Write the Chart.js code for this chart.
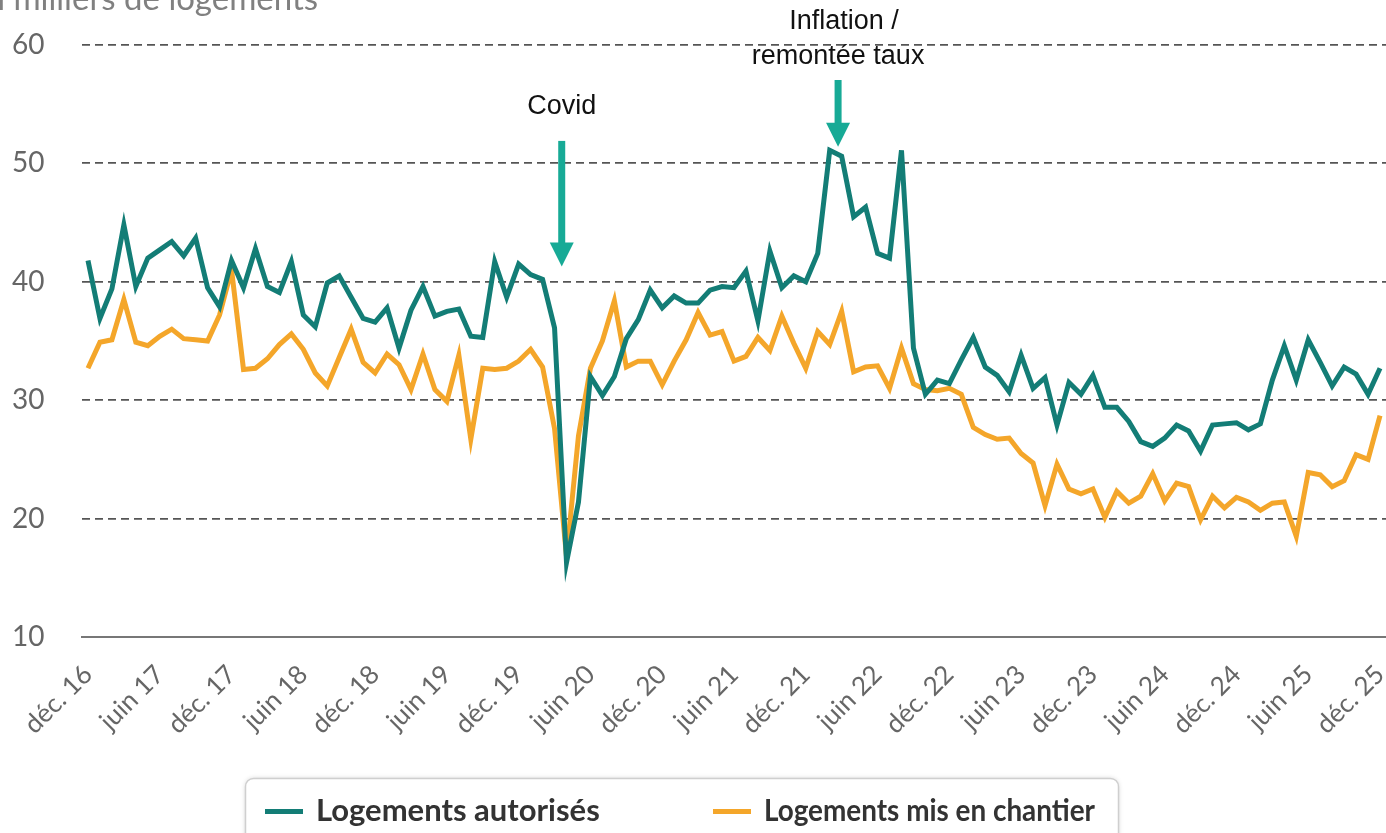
<!DOCTYPE html>
<html lang="fr">
<head>
<meta charset="utf-8">
<title>Logements autorisés et mis en chantier</title>
<script src="https://cdn.jsdelivr.net/npm/chart.js@4.4.1/dist/chart.umd.min.js"></script>
<style>
  html, body { margin: 0; padding: 0; background: #fff; }
  #graphique { display: block; }
</style>
</head>
<body>
<canvas id="graphique" width="1386" height="833"></canvas>
<script>
// Données mensuelles, de déc. 2016 à déc. 2025 (en milliers de logements)
const nomsMois = ['janv.', 'févr.', 'mars', 'avr.', 'mai', 'juin', 'juil.', 'août', 'sept.', 'oct.', 'nov.', 'déc.'];

const autorises = [
  41.8, 36.9, 39.4, 44.8, 39.6, 42.0, 42.7, 43.4, 42.2, 43.7, 39.5, 37.9,
  41.8, 39.5, 42.8, 39.6, 39.1, 41.7, 37.2, 36.2, 39.9, 40.5, 38.7, 36.9,
  36.6, 37.8, 34.4, 37.6, 39.6, 37.1, 37.5, 37.7, 35.4, 35.3, 41.7, 38.7,
  41.5, 40.6, 40.2, 36.1, 16.3, 21.4, 32.0, 30.4, 32.0, 35.2, 36.8, 39.3,
  37.8, 38.8, 38.2, 38.2, 39.3, 39.6, 39.5, 40.9, 36.7, 42.6, 39.5, 40.5,
  40.0, 42.4, 51.1, 50.6, 45.5, 46.3, 42.4, 42.0, 51.1, 34.4, 30.5, 31.7,
  31.4, 33.4, 35.3, 32.8, 32.1, 30.7, 33.8, 31.0, 31.9, 27.9, 31.5, 30.5,
  32.1, 29.4, 29.4, 28.2, 26.5, 26.1, 26.8, 27.9, 27.4, 25.7, 27.9, 28.0,
  28.1, 27.5, 28.0, 31.7, 34.6, 31.7, 35.1, 33.2, 31.2, 32.8, 32.2, 30.5,
  32.7
];

const misEnChantier = [
  32.7, 34.9, 35.1, 38.5, 34.9, 34.6, 35.4, 36.0, 35.2, 35.1, 35.0, 37.2,
  41.0, 32.6, 32.7, 33.5, 34.7, 35.6, 34.3, 32.3, 31.2, 33.6, 36.0, 33.2,
  32.3, 33.9, 33.0, 30.9, 33.9, 30.9, 29.9, 33.8, 26.7, 32.7, 32.6, 32.7,
  33.3, 34.3, 32.8, 27.6, 16.8, 27.0, 32.7, 35.0, 38.4, 32.8, 33.3, 33.3,
  31.3, 33.3, 35.1, 37.4, 35.5, 35.8, 33.3, 33.7, 35.3, 34.2, 37.1, 34.8,
  32.7, 35.8, 34.7, 37.5, 32.4, 32.8, 32.9, 31.0, 34.4, 31.4, 30.9, 30.8,
  31.0, 30.5, 27.7, 27.1, 26.7, 26.8, 25.5, 24.7, 21.1, 24.6, 22.5, 22.1,
  22.5, 20.1, 22.3, 21.3, 21.9, 23.8, 21.5, 23.0, 22.7, 19.9, 21.9, 20.9,
  21.8, 21.4, 20.7, 21.3, 21.4, 18.5, 23.9, 23.7, 22.7, 23.2, 25.4, 25.0,
  28.7
];

// Étiquettes des mois : déc. 16, janv. 17, ...
const mois = [];
for (let i = 0; i < autorises.length; i++) {
  mois.push(nomsMois[(11 + i) % 12] + ' ' + (16 + Math.floor((11 + i) / 12)));
}

const couleurAutorises = '#137d76';
const couleurChantier = '#f4a62a';
const couleurFleche = '#17aa96';

// Dessine une flèche verticale vers le bas
function dessinerFleche(ctx, x, yHaut, yPointe) {
  const base = yPointe - 24;
  ctx.fillStyle = couleurFleche;
  ctx.fillRect(x - 3.5, yHaut, 7, base - yHaut + 1);
  ctx.beginPath();
  ctx.moveTo(x - 12, base);
  ctx.lineTo(x + 12, base);
  ctx.lineTo(x, yPointe);
  ctx.closePath();
  ctx.fill();
}

// Titre d'axe, annotations et légende encadrée
const decor = {
  id: 'decor',
  afterDraw(chart) {
    const ctx = chart.ctx;
    const sx = chart.scales.x;
    const sy = chart.scales.y;
    ctx.save();

    ctx.font = '33px Lato';
    ctx.fillStyle = '#808080';
    ctx.textAlign = 'right';
    ctx.textBaseline = 'alphabetic';
    ctx.fillText('En milliers de logements', 318, 10);

    // Covid
    const xCovid = sx.getPixelForValue(39.6);
    dessinerFleche(ctx, xCovid, sy.getPixelForValue(51.9), sy.getPixelForValue(41.3));
    ctx.font = '27px "Liberation Sans"';
    ctx.fillStyle = '#111';
    ctx.textAlign = 'center';
    ctx.textBaseline = 'middle';
    ctx.fillText('Covid', xCovid, 107);

    // Inflation / remontée des taux
    const xInfl = sx.getPixelForValue(62.7);
    dessinerFleche(ctx, xInfl, 80, sy.getPixelForValue(51.4));
    ctx.fillStyle = '#111';
    ctx.fillText('Inflation /', xInfl + 6, 22);
    ctx.fillText('remontée taux', xInfl, 57);

    // Légende
    ctx.shadowColor = 'rgba(0,0,0,0.18)';
    ctx.shadowBlur = 5;
    ctx.beginPath();
    ctx.roundRect(245.5, 778.5, 873, 90, 8);
    ctx.fillStyle = '#fff';
    ctx.fill();
    ctx.shadowBlur = 0;
    ctx.shadowColor = 'transparent';
    ctx.strokeStyle = '#cfcfcf';
    ctx.lineWidth = 1.5;
    ctx.stroke();

    const entrees = [
      { x: 265, largeur: 290, texte: chart.data.datasets[0].label, couleur: couleurAutorises },
      { x: 713, largeur: 331, texte: chart.data.datasets[1].label, couleur: couleurChantier }
    ];
    ctx.font = 'bold 31px Lato';
    ctx.textAlign = 'left';
    ctx.textBaseline = 'middle';
    entrees.forEach(e => {
      ctx.fillStyle = e.couleur;
      ctx.fillRect(e.x, 809, 38, 5);
      ctx.fillStyle = '#333';
      ctx.fillText(e.texte, e.x + 51, 811, e.largeur);
    });
    ctx.restore();
  }
};

const ctx = document.getElementById('graphique').getContext('2d');

new Chart(ctx, {
  type: 'line',
  data: {
    labels: mois,
    datasets: [
      {
        label: 'Logements autorisés',
        data: autorises,
        borderColor: couleurAutorises,
        borderWidth: 5,
        pointRadius: 0,
        tension: 0
      },
      {
        label: 'Logements mis en chantier',
        data: misEnChantier,
        borderColor: couleurChantier,
        borderWidth: 5,
        pointRadius: 0,
        tension: 0
      }
    ]
  },
  options: {
    responsive: false,
    animation: false,
    layout: { padding: { top: 45, right: 0, bottom: 0, left: 12 } },
    plugins: {
      legend: { display: false },
      tooltip: { enabled: false }
    },
    scales: {
      x: {
        offset: true,
        grid: { display: false, drawTicks: false },
        border: { display: true, color: '#777', width: 2 },
        ticks: {
          autoSkip: false,
          minRotation: 45,
          maxRotation: 45,
          padding: 22,
          color: '#666',
          font: { family: 'Lato', size: 26 },
          callback: function (val, index) {
            return index % 6 === 0 ? this.getLabelForValue(val) : null;
          }
        },
        afterFit: function (scale) {
          scale.height = 196;
          scale.paddingLeft = 0;
          scale.paddingRight = 0;
        }
      },
      y: {
        min: 10,
        max: 60,
        ticks: {
          stepSize: 10,
          color: '#666',
          crossAlign: 'far',
          padding: 8,
          font: { family: 'Lato', size: 28 }
        },
        grid: {
          drawTicks: false,
          lineWidth: 1.8,
          color: c => c.tick.value === 10 ? 'rgba(0,0,0,0)' : '#555'
        },
        border: { display: false, dash: [8, 5] },
        afterFit: function (scale) { scale.width = 70; }
      }
    }
  },
  plugins: [decor]
});
</script>
</body>
</html>
